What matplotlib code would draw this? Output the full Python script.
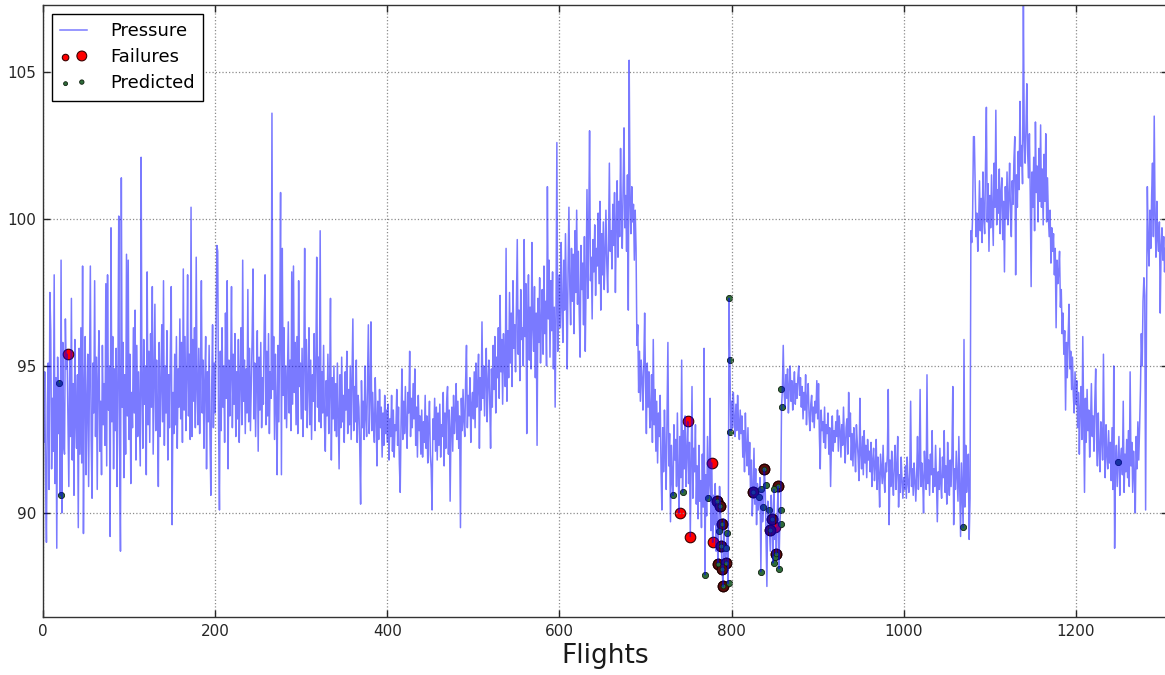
import numpy as np
import matplotlib
matplotlib.use('Agg')
import matplotlib.pyplot as plt
from matplotlib.legend_handler import HandlerPathCollection

# pressure per flight (one value per flight)
pressure = [
    95.9, 92.4, 94.8, 91.2, 89.0, 93.6, 95.1, 90.8, 97.5, 96.2, 91.5, 93.9, 92.1, 98.1, 91.0, 94.6, 88.8, 95.3, 92.7, 94.4,   # 0
    90.6, 98.6, 90.0, 95.8, 92.3, 92.0, 96.6, 94.9, 95.4, 93.0, 90.9, 95.2, 92.6, 97.3, 91.8, 94.4, 90.6, 95.9, 93.1, 92.2,   # 20
    94.7, 89.5, 95.6, 92.0, 96.3, 91.7, 98.4, 89.3, 94.2, 96.0, 91.3, 93.7, 95.4, 90.9, 94.8, 98.4, 92.5, 90.5, 95.1, 93.4,   # 40
    97.9, 92.6, 95.3, 90.8, 94.6, 96.2, 92.1, 93.8, 91.3, 95.7, 93.0, 94.4, 92.3, 97.8, 91.6, 98.1, 93.5, 95.0, 89.2, 99.7,   # 60
    93.1, 96.0, 91.5, 94.9, 92.8, 95.6, 90.9, 94.3, 100.1, 92.4, 88.7, 101.4, 93.6, 95.8, 91.2, 94.7, 92.0, 98.8, 93.3, 98.6,  # 80
    92.5, 95.4, 91.0, 94.1, 92.9, 96.3, 93.4, 96.9, 91.8, 95.7, 92.6, 94.8, 93.1, 91.6, 102.1, 94.0, 92.2, 95.9, 93.7, 95.0,  # 100
    91.3, 98.2, 93.0, 95.5, 92.4, 96.1, 93.6, 97.7, 92.0, 94.6, 97.1, 92.8, 95.2, 93.5, 90.9, 95.8, 92.6, 94.3, 96.4, 93.1,   # 120
    97.9, 92.3, 95.0, 93.4, 96.2, 91.8, 94.7, 92.9, 95.6, 97.7, 89.6, 94.1, 92.7, 95.4, 93.0, 96.0, 92.2, 94.9, 93.6, 96.6,   # 140
    93.2, 95.8, 92.4, 98.3, 93.5, 96.0, 92.8, 94.6, 98.1, 93.3, 95.4, 92.5, 100.4, 92.6, 95.9, 93.8, 96.3, 92.9, 98.7, 94.2,  # 160
    93.0, 95.6, 92.7, 94.9, 97.9, 93.4, 95.2, 92.2, 94.5, 96.0, 91.5, 94.8, 93.1, 95.7, 92.6, 90.6, 94.3, 96.4, 92.9, 95.1,   # 180
    93.4, 95.9, 99.1, 98.9, 93.0, 90.1, 95.5, 92.8, 96.3, 93.6, 95.0, 92.4, 96.8, 93.9, 97.9, 91.5, 95.2, 93.3, 94.7, 97.7,   # 200
    92.9, 95.4, 93.7, 96.1, 92.6, 94.8, 93.2, 95.9, 92.4, 94.5, 96.3, 93.0, 98.6, 93.8, 95.2, 92.7, 94.9, 93.4, 97.6, 93.1,   # 220
    95.6, 92.8, 94.4, 96.0, 98.3, 93.2, 95.1, 92.6, 94.7, 96.2, 92.1, 95.3, 93.5, 95.8, 92.9, 94.6, 93.7, 96.4, 98.1, 93.0,   # 240
    95.5, 93.3, 96.1, 92.7, 94.8, 93.9, 103.6, 94.2, 96.0, 92.5, 95.4, 93.6, 91.3, 95.7, 93.1, 96.2, 100.9, 91.3, 99.0, 94.0, # 260
    96.3, 93.2, 95.0, 92.9, 94.7, 96.5, 93.4, 95.2, 92.8, 98.2, 93.7, 98.4, 94.1, 95.8, 93.0, 96.0, 92.7, 97.9, 94.3, 95.1,   # 280
    93.2, 95.6, 92.6, 94.9, 99.0, 93.5, 95.9, 92.9, 94.4, 96.3, 93.0, 95.2, 92.5, 94.7, 93.8, 96.1, 92.8, 95.0, 98.7, 93.6,   # 300
    95.3, 93.1, 99.6, 92.9, 94.8, 93.4, 95.7, 93.0, 92.1, 94.5, 93.3, 95.4, 92.7, 94.2, 97.3, 91.8, 94.6, 93.2, 95.0, 92.8,   # 320
    94.4, 92.6, 95.1, 93.4, 91.5, 94.7, 92.9, 95.3, 93.1, 94.0, 92.4, 94.8, 93.5, 95.5, 92.7, 94.2, 93.0, 95.0, 92.5, 94.6,   # 340
    96.6, 92.8, 94.3, 93.1, 95.2, 92.4, 94.0, 93.6, 92.2, 90.3, 94.5, 92.9, 93.8, 92.5, 95.0, 93.2, 92.6, 94.4, 96.4, 92.7,   # 360
    93.9, 96.5, 92.8, 94.1, 93.0, 92.4, 94.6, 93.3, 91.6, 93.8, 92.5, 94.2, 92.9, 93.6, 91.9, 93.4, 92.3, 94.0, 92.7, 93.5,   # 380
    92.4, 93.7, 91.8, 93.2, 92.6, 94.0, 92.1, 93.5, 91.9, 93.0, 92.8, 94.2, 92.3, 93.6, 91.7, 90.7, 93.1, 94.9, 92.5, 93.8,   # 400
    92.7, 94.3, 93.0, 92.2, 94.1, 93.4, 95.5, 92.6, 93.9, 92.9, 94.4, 93.2, 94.9, 92.3, 93.6, 91.9, 94.0, 92.8, 93.3, 92.0,   # 420
    93.5, 91.9, 93.1, 92.4, 94.0, 92.2, 93.3, 91.7, 92.9, 93.8, 92.0, 91.5, 90.1, 93.2, 92.5, 93.9, 92.1, 93.6, 91.8, 93.4,   # 440
    92.3, 93.7, 91.9, 93.0, 92.6, 94.1, 91.6, 93.4, 92.2, 93.8, 94.3, 92.0, 93.5, 90.4, 92.9, 93.6, 92.1, 94.0, 92.7, 93.2,   # 460
    94.4, 92.5, 93.8, 92.2, 93.3, 89.5, 93.9, 92.8, 94.2, 93.1, 92.6, 94.5, 95.7, 92.9, 94.0, 93.3, 94.6, 92.4, 93.7, 94.1,   # 480
    93.2, 94.8, 92.9, 95.1, 93.6, 94.3, 95.4, 92.2, 94.6, 93.5, 96.5, 93.9, 95.0, 93.3, 94.7, 95.6, 93.1, 94.4, 95.2, 93.8,   # 500
    92.2, 94.9, 93.6, 95.7, 94.2, 96.0, 93.4, 95.3, 94.6, 96.3, 93.9, 97.4, 94.8, 95.9, 93.7, 96.1, 95.0, 94.3, 99.0, 93.8,   # 520
    96.2, 94.6, 97.5, 95.1, 96.8, 94.3, 97.9, 95.6, 96.4, 94.8, 97.2, 99.3, 95.4, 96.9, 94.5, 97.6, 95.9, 96.3, 95.0, 99.3,   # 540
    96.0, 97.8, 92.7, 96.6, 98.1, 95.2, 97.0, 94.9, 99.2, 96.3, 95.5, 97.7, 94.6, 96.8, 92.3, 97.3, 95.8, 98.0, 95.1, 96.5,   # 560
    97.6, 95.4, 98.4, 96.1, 97.2, 95.0, 101.1, 96.6, 98.6, 95.3, 97.9, 96.2, 98.2, 94.9, 97.0, 93.6, 96.8, 102.6, 95.5, 97.4, # 580
    98.1, 96.3, 99.2, 97.0, 95.8, 98.6, 96.9, 99.5, 97.4, 94.9, 98.3, 100.4, 97.7, 96.4, 99.0, 97.2, 98.8, 96.1, 99.6, 97.5,  # 600
    100.3, 97.1, 98.9, 96.8, 95.3, 99.1, 97.6, 98.5, 96.4, 99.4, 95.5, 98.0, 101.0, 97.3, 99.7, 103.0, 97.9, 98.7, 96.6, 99.3, # 620
    98.2, 99.8, 97.4, 99.0, 98.4, 100.2, 97.8, 100.6, 96.9, 99.5, 98.1, 99.9, 97.6, 98.8, 100.3, 98.5, 97.5, 99.2, 101.9, 98.9, # 640
    99.6, 98.3, 100.5, 99.1, 100.9, 97.5, 99.8, 101.3, 98.7, 100.6, 99.4, 102.4, 100.1, 99.0, 101.2, 103.1, 99.7, 100.8, 98.9, 101.5, # 660
    96.9, 105.4, 100.7, 99.5, 101.1, 99.9, 100.5, 98.6, 100.3, 99.0, 95.7, 96.4, 94.1, 95.5, 93.8, 95.2, 94.6, 93.5, 95.0, 96.8, # 680
    94.4, 92.7, 95.1, 93.6, 94.8, 92.9, 93.3, 94.7, 92.4, 95.9, 93.0, 94.2, 92.1, 93.8, 91.7, 93.4, 92.6, 94.0, 91.5, 90.1,   # 700
    92.9, 91.4, 93.5, 92.0, 90.8, 93.2, 95.8, 91.6, 92.7, 89.7, 92.3, 91.1, 90.6, 93.0, 91.8, 92.5, 90.9, 93.4, 91.3, 90.0,   # 720
    92.6, 91.2, 95.2, 90.7, 92.8, 91.5, 93.3, 90.9, 92.1, 93.1, 91.0, 92.4, 89.2, 91.7, 94.3, 90.5, 92.2, 91.4, 93.0, 90.3,   # 740
    91.6, 89.8, 92.3, 90.4, 91.1, 89.5, 92.0, 90.2, 95.6, 87.9, 91.3, 89.9, 92.6, 90.5, 91.0, 93.9, 89.4, 91.7, 89.0, 90.6,   # 760
    89.6, 91.0, 88.7, 90.4, 88.3, 89.4, 90.9, 90.2, 88.9, 88.1, 87.5, 89.8, 88.6, 88.3, 88.8, 89.3, 87.6, 97.3, 95.2, 92.8,   # 780
    93.8, 92.9, 94.1, 93.2, 92.6, 93.7, 92.8, 94.0, 93.1, 92.5, 93.5, 92.7, 93.3, 91.9, 92.8, 91.4, 93.4, 92.2, 91.6, 92.9,   # 800
    91.3, 92.4, 90.6, 91.8, 89.9, 90.7, 92.2, 90.3, 91.5, 89.6, 91.0, 90.1, 90.5, 91.2, 88.0, 90.8, 89.7, 90.2, 91.5, 90.9,   # 820
    89.3, 87.5, 90.4, 90.1, 89.4, 88.7, 90.6, 89.8, 88.3, 90.8, 89.1, 89.5, 88.6, 89.9, 90.9, 88.1, 89.6, 90.1, 93.6, 94.2,   # 840
    95.7, 94.1, 93.6, 94.7, 93.9, 94.9, 93.4, 94.3, 95.0, 93.8, 94.5, 93.5, 94.2, 94.8, 93.7, 94.4, 93.9, 94.6, 95.0, 94.0,   # 860
    94.6, 93.6, 94.3, 93.2, 94.1, 93.5, 94.7, 93.0, 93.9, 94.4, 93.3, 92.8, 93.7, 94.0, 93.1, 93.6, 92.9, 93.8, 93.4, 94.5,   # 880
    93.2, 94.4, 92.6, 91.5, 93.5, 92.8, 93.1, 92.4, 93.6, 92.2, 93.0, 92.7, 93.4, 92.0, 92.9, 90.9, 92.5, 93.3, 92.1, 92.8,   # 900
    92.4, 93.1, 92.6, 93.5, 92.1, 93.3, 92.8, 91.9, 93.0, 92.3, 93.6, 92.5, 91.7, 92.9, 93.2, 92.0, 94.1, 92.6, 93.4, 91.8,   # 920
    92.7, 91.6, 92.9, 92.2, 91.4, 93.0, 92.4, 91.9, 91.1, 93.9, 92.0, 91.5, 92.6, 91.3, 92.8, 91.7, 92.3, 91.2, 92.5, 91.8,   # 940
    92.1, 91.4, 92.4, 90.9, 91.8, 92.2, 91.1, 91.6, 92.5, 90.8, 91.9, 91.3, 90.2, 92.0, 91.5, 91.0, 92.3, 91.2, 90.7, 91.7,   # 960
    91.4, 92.0, 94.2, 89.6, 91.8, 90.9, 92.1, 91.2, 90.6, 91.7, 92.3, 90.8, 91.5, 92.6, 90.2, 91.3, 90.7, 91.9, 91.1, 90.5,   # 980
    91.2, 90.8, 91.6, 90.5, 91.9, 91.0, 90.7, 91.4, 93.8, 90.9, 91.5, 90.6, 91.7, 91.1, 90.4, 91.3, 92.6, 90.8, 91.6, 94.2,   # 1000
    90.9, 91.7, 91.2, 90.0, 92.1, 91.4, 90.8, 94.7, 91.0, 91.8, 90.6, 92.0, 91.3, 92.8, 90.7, 91.5, 90.9, 92.3, 91.1, 89.7,   # 1020
    91.4, 90.8, 92.2, 91.0, 90.5, 91.9, 91.2, 92.8, 90.7, 91.6, 90.3, 92.4, 91.1, 90.6, 91.8, 90.9, 92.0, 94.3, 89.6, 91.5,   # 1040
    90.8, 92.1, 91.2, 90.4, 92.6, 91.0, 89.2, 91.7, 90.6, 89.5, 95.9, 90.2, 92.3, 90.7, 91.4, 92.0, 89.1, 90.5, 99.6, 99.2,   # 1060
    100.1, 102.8, 102.8, 101.0, 99.4, 100.2, 98.9, 99.8, 101.3, 99.6, 100.7, 99.2, 101.6, 100.0, 99.5, 101.9, 103.8, 99.9, 101.2, 98.9, # 1080
    100.8, 99.7, 101.5, 100.3, 99.1, 101.9, 100.4, 103.7, 99.8, 101.0, 100.2, 101.7, 99.5, 100.9, 101.4, 99.3, 100.6, 98.2, 101.1, 100.0, # 1100
    101.6, 99.8, 100.7, 101.9, 100.1, 99.4, 101.3, 100.5, 102.0, 102.8, 98.1, 101.5, 100.4, 102.3, 101.0, 104.0, 101.8, 102.5, 101.2, 107.4, # 1120
    102.7, 101.9, 103.1, 104.6, 102.2, 101.4, 102.9, 100.8, 97.7, 101.6, 100.4, 102.1, 99.6, 103.3, 100.9, 101.8, 99.9, 102.4, 100.6, 103.2, # 1140
    100.4, 101.7, 99.8, 102.2, 100.6, 102.9, 99.9, 101.4, 100.1, 99.4, 100.3, 98.5, 99.7, 98.9, 99.5, 98.1, 99.0, 96.3, 98.6, 97.8, # 1160
    98.2, 98.9, 97.0, 97.6, 96.1, 96.8, 95.4, 96.2, 93.5, 95.8, 94.6, 96.0, 97.1, 94.9, 95.5, 94.2, 95.3, 94.0, 93.4, 94.8,   # 1180
    93.7, 94.5, 92.9, 94.1, 92.0, 93.6, 94.3, 92.5, 96.0, 93.2, 90.7, 93.9, 92.4, 94.2, 92.8, 93.5, 91.9, 93.0, 94.4, 92.6,   # 1200
    93.3, 92.1, 93.8, 94.9, 92.5, 91.6, 93.4, 92.2, 91.4, 93.1, 92.7, 91.8, 95.4, 92.3, 91.2, 93.0, 92.0, 91.5, 92.8, 91.7,   # 1220
    92.4, 91.1, 92.9, 90.8, 95.0, 88.8, 91.6, 92.3, 90.9, 91.7, 92.6, 90.6, 91.9, 92.2, 91.3, 93.8, 90.7, 92.0, 91.4, 92.5,   # 1240
    91.2, 92.8, 90.9, 94.8, 91.6, 92.4, 90.7, 92.1, 91.3, 90.0, 92.6, 91.5, 93.1, 91.8, 92.9, 94.2, 96.1, 95.0, 97.2, 98.0,   # 1260
    97.4, 90.1, 96.5, 101.1, 99.2, 98.4, 100.3, 99.0, 100.8, 101.9, 99.4, 103.5, 100.1, 98.7, 100.6, 99.3, 98.9, 99.9, 96.8, 99.1, # 1280
    99.7, 98.6, 99.4, 98.2, 99.0,                                                                                               # 1300
]
flights = np.arange(len(pressure))

# recorded failures (flight, pressure) and whether the model flagged them
fail_flight = [28.7, 749, 777.5, 739.5, 751.5, 778.7, 782.6, 787, 789, 788, 784,
               793, 789, 790, 824.5, 837.6, 854, 847, 844.6, 851, 852]
fail_value = [95.41, 93.13, 91.71, 90.01, 89.19, 89.02, 90.42, 90.24, 89.63, 88.88, 88.26,
              88.29, 88.10, 87.52, 90.72, 91.50, 90.93, 89.79, 89.42, 89.51, 88.60]
caught = [False, False, False, False, False, False, True, True, True, True, True,
          True, True, True, True, True, True, True, True, False, True]

# predicted failures
pred_flight = [19, 20.5, 732, 743, 768.6, 772.5, 785, 794, 795, 797, 797, 798, 797.7,
               832, 834.5, 834.5, 837, 839.5, 844, 849, 857, 857, 849, 855, 851,
               857, 858, 1069, 1249]
pred_value = [94.41, 90.61, 90.61, 90.71, 87.89, 90.50, 89.40, 88.80, 89.31, 87.60, 97.30, 95.22, 92.77,
              90.55, 88.00, 90.80, 90.21, 90.95, 90.10, 90.80, 90.10, 89.63, 88.29, 88.10, 88.50,
              94.20, 93.60, 89.52, 91.73]

xticks = [0, 200, 400, 600, 800, 1000, 1200]
yticks = [90, 95, 100, 105]

W, H = 1165, 675
fig = plt.figure(figsize=(W / 100, H / 100), dpi=100)
ax = fig.add_axes([43 / W, 58 / H, 1125 / W, 612 / H])

ax.plot(flights, pressure, color='b', alpha=0.52, lw=1.1, label='Pressure')

fx = np.array(fail_flight)
fy = np.array(fail_value)
cm = np.array(caught)
fail_sc = ax.scatter(fx, fy, s=58, c='red', edgecolors='#3a0000', linewidths=0.8,
                     label='Failures')
ax.scatter(fx[cm], fy[cm], s=58, c='#5a0c0c', edgecolors='#1e0000', linewidths=0.8)
pred_sc = ax.scatter(pred_flight, pred_value, s=20, c='#2f6b3a', edgecolors='#0f200f',
                     linewidths=0.6, label='Predicted')
ax.scatter(fx[cm], fy[cm], s=12, c='#2f6b3a', edgecolors='#0f200f', linewidths=0.5)

ax.set_xlim(0, 1307)
ax.set_ylim(86.46, 107.28)
ax.set_xticks(xticks)
ax.set_yticks(yticks)
ax.tick_params(direction='in', length=5, width=1, top=True, right=True,
               labelsize=11, pad=5, colors='0.15')
for sp in ax.spines.values():
    sp.set_color('0.2')
    sp.set_linewidth(1.0)
ax.grid(True, color='0.55', linestyle=':', linewidth=0.9)
ax.set_xlabel('Flights', fontsize=19, labelpad=3, color='0.1')

leg = ax.legend(loc='upper left', fontsize=13, scatterpoints=2, handlelength=1.5,
                handletextpad=1.3, labelspacing=0.45, borderpad=0.45,
                borderaxespad=0.5, fancybox=False, framealpha=1, edgecolor='black',
                handler_map={fail_sc: HandlerPathCollection(sizes=[22, 50]),
                             pred_sc: HandlerPathCollection(sizes=[8, 10])})
leg.get_frame().set_linewidth(1.0)

fig.savefig('out.png', dpi=100)
